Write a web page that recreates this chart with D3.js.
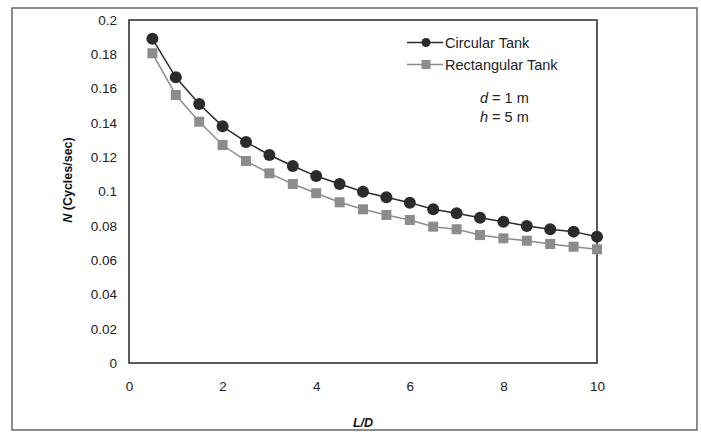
<!DOCTYPE html>
<html><head><meta charset="utf-8">
<script src="https://cdn.jsdelivr.net/npm/d3@7"></script>
<style>
body{margin:0;background:#fff;}
svg{display:block;font-family:"Liberation Sans",Arial,sans-serif;}
</style></head>
<body><svg id="c" width="701" height="436"></svg>
<script>
const ratios = [0.5,1,1.5,2,2.5,3,3.5,4,4.5,5,5.5,6,6.5,7,7.5,8,8.5,9,9.5,10];
const circular = [0.189,0.1666,0.151,0.138,0.1289,0.1213,0.1149,0.109,0.1044,0.0999,0.0966,0.0935,0.0896,0.0873,0.0847,0.0824,0.0799,0.078,0.0766,0.0736];
const rectangular = [0.1806,0.1563,0.1407,0.1271,0.1178,0.1106,0.1044,0.099,0.0937,0.0896,0.0863,0.0834,0.0795,0.078,0.0746,0.0727,0.0713,0.0694,0.0678,0.0663];
const xTicks = [0,2,4,6,8,10];
const yTicks = [0,0.02,0.04,0.06,0.08,0.1,0.12,0.14,0.16,0.18,0.2];
const seriesNames = ["Circular Tank","Rectangular Tank"];

const svg = d3.select("#c");
const L=129, R=597, T=20, B=363;
const x = d3.scaleLinear().domain([0,10]).range([L,R]);
const y = d3.scaleLinear().domain([0,0.2]).range([B,T]);

svg.append("rect").attr("x",12).attr("y",8).attr("width",685).attr("height",422)
  .attr("fill","none").attr("stroke","#666").attr("stroke-width",1.5);

svg.append("rect").attr("x",L).attr("y",T).attr("width",R-L).attr("height",B-T)
  .attr("fill","none").attr("stroke","#333").attr("stroke-width",1.6);

const xAxis = svg.append("g").attr("transform",`translate(0,${B})`)
  .call(d3.axisBottom(x).tickValues(xTicks).tickSize(0).tickPadding(18).tickFormat(d3.format("d")));
xAxis.select(".domain").remove();
xAxis.selectAll("text").attr("font-size","13.5px").attr("fill","#222").attr("font-family","Liberation Sans, Arial, sans-serif");

const yAxis = svg.append("g").attr("transform",`translate(${L},0)`)
  .call(d3.axisLeft(y).tickValues(yTicks).tickSize(0).tickPadding(12).tickFormat(d=>d3.format("")(+d.toFixed(2))));
yAxis.select(".domain").remove();
yAxis.selectAll("text").attr("font-size","13.5px").attr("fill","#222").attr("font-family","Liberation Sans, Arial, sans-serif");

const line = d3.line().x((d,i)=>x(ratios[i])).y(d=>y(d));
svg.append("path").datum(rectangular).attr("d",line).attr("fill","none").attr("stroke","#8c8c8c").attr("stroke-width",1.5);
svg.append("path").datum(circular).attr("d",line).attr("fill","none").attr("stroke","#2b2b2b").attr("stroke-width",1.5);

svg.selectAll("rect.sq").data(rectangular).enter().append("rect").attr("class","sq")
  .attr("x",(d,i)=>x(ratios[i])-5).attr("y",d=>y(d)-5).attr("width",10).attr("height",10)
  .attr("fill","#8c8c8c");
svg.selectAll("circle.ci").data(circular).enter().append("circle").attr("class","ci")
  .attr("cx",(d,i)=>x(ratios[i])).attr("cy",d=>y(d)).attr("r",6).attr("fill","#2b2b2b");

// legend
const lg = svg.append("g");
lg.append("line").attr("x1",407).attr("x2",443).attr("y1",42.5).attr("y2",42.5).attr("stroke","#2b2b2b").attr("stroke-width",1.5);
lg.append("circle").attr("cx",426).attr("cy",42.5).attr("r",4.5).attr("fill","#2b2b2b");
lg.append("line").attr("x1",407).attr("x2",443).attr("y1",64.5).attr("y2",64.5).attr("stroke","#8c8c8c").attr("stroke-width",1.5);
lg.append("rect").attr("x",421.5).attr("y",60).attr("width",9).attr("height",9).attr("fill","#8c8c8c");
lg.selectAll("text.lt").data(seriesNames).enter().append("text").attr("class","lt")
  .attr("x",445).attr("y",(d,i)=>47.5+i*22).attr("font-size","14.5px").attr("fill","#222").text(d=>d);

const p1 = svg.append("text").attr("x",480).attr("y",103).attr("font-size","14.5px").attr("fill","#222");
p1.append("tspan").attr("font-style","italic").text("d");
p1.append("tspan").text(" = 1 m");
const p2 = svg.append("text").attr("x",480).attr("y",122).attr("font-size","14.5px").attr("fill","#222");
p2.append("tspan").attr("font-style","italic").text("h");
p2.append("tspan").text(" = 5 m");

// axis titles
svg.append("text").attr("x",363).attr("y",427).attr("text-anchor","middle")
  .attr("font-size","12.5px").attr("font-weight","bold").attr("font-style","italic").attr("fill","#111").text("L/D");
const yt = svg.append("text").attr("transform","translate(72,180) rotate(-90)").attr("text-anchor","middle")
  .attr("font-size","12.5px").attr("font-weight","bold").attr("fill","#111");
yt.append("tspan").attr("font-style","italic").text("N");
yt.append("tspan").text(" (Cycles/sec)");
</script></body></html>
